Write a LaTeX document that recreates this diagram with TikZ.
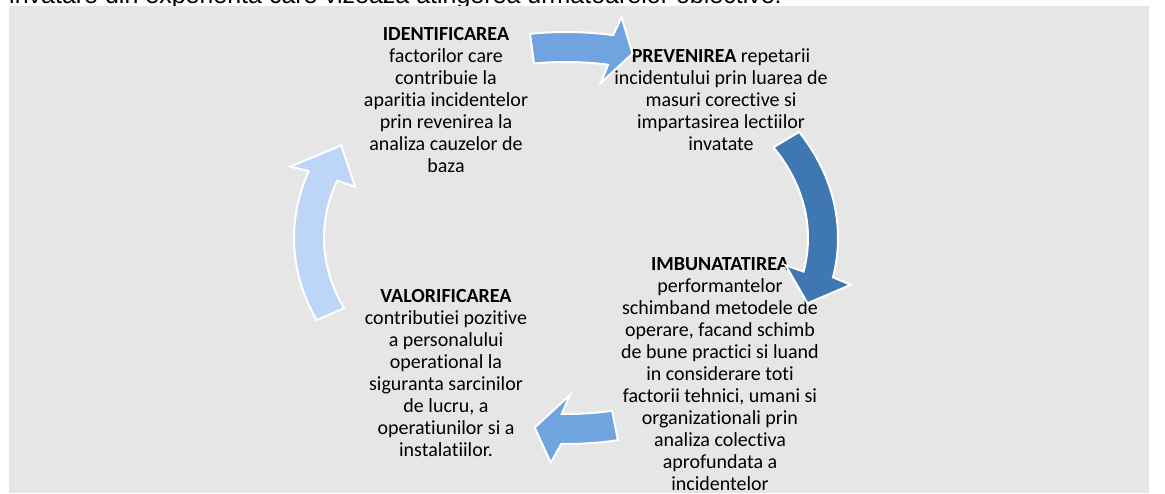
\documentclass[tikz,border=0pt]{standalone}
\usepackage{fontspec}
\setmainfont{Carlito}[Ligatures=NoCommon]
\newfontfamily\arialfont{Liberation Sans}
\definecolor{bg}{HTML}{E7E6E6}
\definecolor{arA}{HTML}{6FA4DE}
\definecolor{arB}{HTML}{3E77B1}
\definecolor{arC}{HTML}{BDD6F7}
\newcommand{\ctrlines}[1]{\vtop{\halign{\hfil##\hfil\cr#1\crcr}}}
\newcommand{\cyclearrow}[6]{%
  \fill[#1, draw=white, line width=2pt, line join=miter]
    plot[domain=#2:#3, samples=40] ({\ecx+(\erx+\ew)*cos(\x)}, {\ecy-(\ery+\ew)*sin(\x)})
    -- ({\ecx+(\erx+\eh)*cos(#4)}, {\ecy-(\ery+\eh)*sin(#4)})
    -- ({\ecx+\erx*cos(#6)}, {\ecy-\ery*sin(#6)})
    -- ({\ecx+(\erx-\eh)*cos(#5)}, {\ecy-(\ery-\eh)*sin(#5)})
    -- plot[domain=#3:#2, samples=40] ({\ecx+(\erx-\ew)*cos(\x)}, {\ecy-(\ery-\ew)*sin(\x)})
    -- cycle;}
\begin{document}
\begin{tikzpicture}[x=1pt,y=-1pt,
  txt/.style={inner sep=0pt, font=\fontsize{20}{22}\selectfont, text=black}]
\useasboundingbox (0,0) rectangle (1165,493);
\def\ecx{566}\def\ecy{238}\def\erx{257}\def\ery{191}\def\ew{15}\def\eh{34}
\node[anchor=base west, inner sep=0pt, font=\arialfont\fontsize{25}{30}\selectfont] (intro) at (9,3.5)
  {invatare din experienta care vizeaza atingerea urmatoarelor obiective:};
\fill[bg] (9,6) rectangle (1149,493);
\node[txt, anchor=base] (identif) at (446,40) {\ctrlines{\textbf{IDENTIFICAREA}\cr factorilor care\cr contribuie la\cr aparitia incidentelor\cr prin revenirea la\cr analiza cauzelor de\cr baza}};
\node[txt, anchor=base] (preven) at (721,62) {\ctrlines{\textbf{PREVENIREA} repetarii\cr incidentului prin luarea de\cr masuri corective si\cr impartasirea lectiilor\cr invatate}};
\node[txt, anchor=base] (imbun) at (720,270) {\ctrlines{\textbf{IMBUNATATIREA}\cr performantelor\cr schimband metodele de\cr operare, facand schimb\cr de bune practici si luand\cr in considerare toti\cr factorii tehnici, umani si\cr organizationali prin\cr analiza colectiva\cr aprofundata a\cr incidentelor}};
\node[txt, anchor=base] (valor) at (446,302) {\ctrlines{\textbf{VALORIFICAREA}\cr contributiei pozitive\cr a personalului\cr operational la\cr siguranta sarcinilor\cr de lucru, a\cr operatiunilor si a\cr instalatiilor.}};
\cyclearrow{arA}{97.6}{80}{79}{81}{75}
\cyclearrow{arB}{31}{-11}{-12}{-10}{-20}
\cyclearrow{arA}{-79}{-91}{-93}{-89}{-97}
\cyclearrow{arC}{203.5}{161}{161.5}{161}{151}
\end{tikzpicture}
\end{document}
